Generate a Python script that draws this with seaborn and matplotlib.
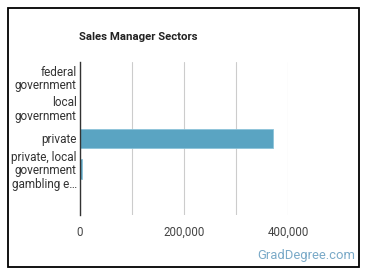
import numpy as np
import pandas as pd
import seaborn as sns
import matplotlib.pyplot as plt
from matplotlib.patches import Rectangle
from matplotlib.ticker import FuncFormatter, MultipleLocator

sectors = ["federal\ngovernment", "local\ngovernment", "private",
           "private, local\ngovernment\ngambling e\u2026", " "]
employees = [600, 800, 372000, 5200, 1200]

df = pd.DataFrame({"sector": sectors, "employees": employees})

sns.set_theme(style="white")
plt.rcParams["font.family"] = ["Roboto", "DejaVu Sans"]

fig = plt.figure(figsize=(3.7, 2.78), dpi=100)
ax = fig.add_axes([79.5 / 370, 1 - 215 / 278, (288 - 79.5) / 370, (215 - 62) / 278])

sns.barplot(data=df, x="employees", y="sector", color="#5aa4c2", width=0.65,
            edgecolor="#8cc3d9", linewidth=0.6, saturation=1, ax=ax)

ax.set_xlim(0, 400000)
ax.xaxis.set_major_locator(MultipleLocator(200000))
ax.xaxis.set_minor_locator(MultipleLocator(100000))
ax.xaxis.set_major_formatter(FuncFormatter(lambda v, p: f"{int(v):,}"))
ax.grid(axis="x", which="both", color="#cccccc", linewidth=0.8)
ax.set_axisbelow(True)
for s in ["top", "right", "bottom"]:
    ax.spines[s].set_visible(False)
ax.spines["left"].set_color("#333333")
ax.spines["left"].set_linewidth(1.0)
ax.set_xlabel("")
ax.set_ylabel("")
ax.tick_params(axis="x", which="both", length=0, labelsize=8.3, labelcolor="#444444", pad=8)
ax.tick_params(axis="y", length=0, labelsize=8.5, labelcolor="#333333", pad=2)
for lbl in ax.get_yticklabels():
    lbl.set_linespacing(1.05)

fig.text(79 / 370, 1 - 37 / 278, "Sales Manager Sectors", fontsize=8.2,
         fontweight="bold", color="#222222", va="center", ha="left")
fig.text(355 / 370, 1 - 255 / 278, "GradDegree.com", fontsize=9.4,
         color="#7aaac8", va="center", ha="right")

fig.patches.append(Rectangle((8 / 370, 1 - 267 / 278), (359 - 8) / 370, (267 - 8) / 278,
                             transform=fig.transFigure, fill=False,
                             edgecolor="black", linewidth=1.3))

fig.savefig("out.png", dpi=100)
